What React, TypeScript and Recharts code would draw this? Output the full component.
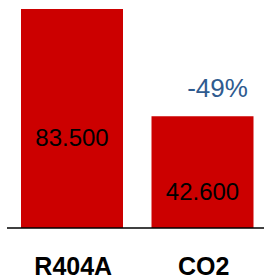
import React from 'react';
import { BarChart, Bar, XAxis, YAxis, LabelList } from 'recharts';

const categories = ['R404A', 'CO2'];
const values = [83500, 42600];
const changeLabels = ['', '-49%'];

const data = categories.map((name, i) => ({ name, value: values[i], change: changeLabels[i] }));

const fmt = (v: number) => String(Math.round(v)).replace(/\B(?=(\d{3})+(?!\d))/g, '.');

const FONT = '"Liberation Sans", Arial, sans-serif';

const ValueLabel = (props: any) => {
  const { x, y, width, height, value } = props;
  return (
    <text x={x + width / 2} y={y + height / 2 + 19} textAnchor="middle" dominantBaseline="central"
      fontFamily={FONT} fontSize={24} fill="#000">
      {fmt(value)}
    </text>
  );
};

const ChangeLabel = (props: any) => {
  const { x, y, width, value } = props;
  if (!value) return null;
  return (
    <text x={x + width / 2 + 15} y={y - 28} textAnchor="middle" dominantBaseline="central"
      fontFamily={FONT} fontSize={26} fill="#2F5B8F">
      {value}
    </text>
  );
};

const Tick = (props: any) => {
  const { x, y, payload } = props;
  return (
    <text x={x + 1} y={y + 47} textAnchor="middle" fontFamily={FONT} fontSize={25} fontWeight="bold" fill="#000">
      {payload.value}
    </text>
  );
};

export default function App() {
  return (
    <div style={{ position: 'absolute', left: 0, top: 0, width: 264, height: 278, overflow: 'hidden', background: '#fff' }}>
      <BarChart width={268} height={278} data={data} margin={{ top: 9, right: 0, bottom: 0, left: 7 }}>
        <XAxis dataKey="name" height={50} tickLine={false} tickSize={0} tickMargin={0}
          axisLine={{ stroke: '#000', strokeWidth: 1.5 }} tick={<Tick />} interval={0} />
        <YAxis hide domain={[0, 83500]} />
        <Bar dataKey="value" fill="#CC0000" barSize={102} isAnimationActive={false}>
          <LabelList dataKey="value" content={<ValueLabel />} />
          <LabelList dataKey="change" content={<ChangeLabel />} />
        </Bar>
      </BarChart>
    </div>
  );
}
